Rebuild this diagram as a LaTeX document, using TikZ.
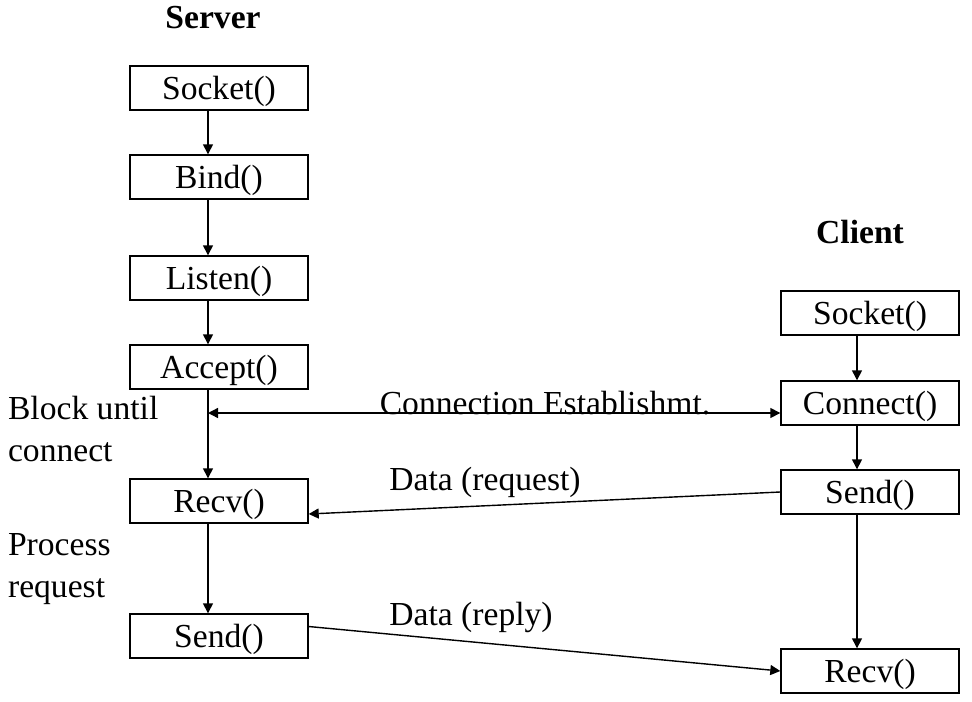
\documentclass[tikz,border=0pt]{standalone}
\usepackage{fontspec}
\setmainfont{Liberation Serif}
\usetikzlibrary{arrows.meta,positioning}

\begin{document}
\begin{tikzpicture}[
    x=0.5pt, y=-0.5pt,
    font=\fontsize{16.8}{21}\selectfont,
    call/.style={draw, line width=0.7pt, minimum width=89pt, minimum height=22pt, inner sep=0pt,
      text height=11pt, text depth=0pt},
    flow/.style={-{Triangle[length=5pt,width=5pt]}, line width=0.7pt},
    both/.style={{Triangle[length=5pt,width=5pt]}-{Triangle[length=5pt,width=5pt]}, line width=0.7pt},
    side/.style={align=left, anchor=west},
    head/.style={font=\fontsize{16.8}{21}\selectfont\bfseries}
  ]
  \useasboundingbox (0,0) rectangle (972,701);
  % server side
  \node[head] (server) at (213,18) {Server};
  \node[call] (ssock) at (219,88) {Socket()};
  \node[call] (sbind) at (219,177) {Bind()};
  \node[call] (slisten) at (219,278) {Listen()};
  \node[call] (saccept) at (219,367) {Accept()};
  \node[call] (srecv) at (219,501) {Recv()};
  \node[call] (ssend) at (219,636) {Send()};
  \coordinate (saxis) at (208,0);
  \coordinate (cest) at (208,413);
  % client side
  \node[head] (client) at (860,232) {Client};
  \node[call] (csock) at (870,313) {Socket()};
  \node[call] (cconnect) at (870,403) {Connect()};
  \node[call] (csend) at (870,492) {Send()};
  \node[call] (crecv) at (870,671) {Recv()};
  \coordinate (caxis) at (857,0);
  % notes
  \node[side] (block) at (1,429) {Block until\\connect};
  \node[side] (process) at (1,569) {Process\\request};
  % server flow
  \draw[flow] (ssock.south -| saxis) -- (sbind.north -| saxis);
  \draw[flow] (sbind.south -| saxis) -- (slisten.north -| saxis);
  \draw[flow] (slisten.south -| saxis) -- (saccept.north -| saxis);
  \draw[flow] (saccept.south -| saxis) -- (srecv.north -| saxis);
  \draw[flow] (srecv.south -| saxis) -- (ssend.north -| saxis);
  % client flow
  \draw[flow] (csock.south -| caxis) -- (cconnect.north -| caxis);
  \draw[flow] (cconnect.south -| caxis) -- (csend.north -| caxis);
  \draw[flow] (csend.south -| caxis) -- (crecv.north -| caxis);
  % messages
  \draw[both] (cest) -- (cest -| cconnect.west);
  \node (lconn) at (545,403) {Connection Establishmt.};
  \draw[flow] (csend.west) -- ([yshift=-6.5pt]srecv.east);
  \node (lreq) at (485,482) {Data (request)};
  \draw[flow] ([yshift=4.75pt]ssend.east) -- (crecv.west);
  \node (lrep) at (471,617) {Data (reply)};
\end{tikzpicture}
\end{document}
